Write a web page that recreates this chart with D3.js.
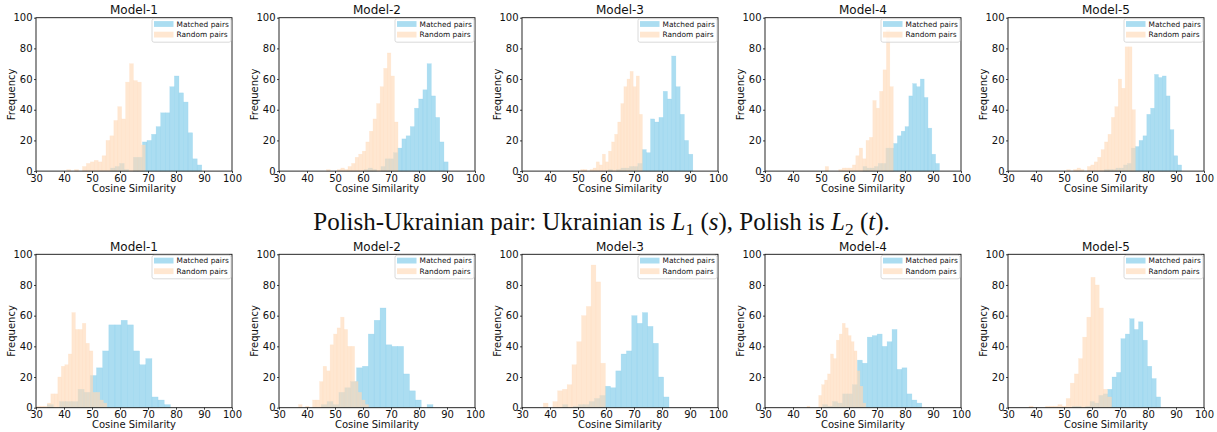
<!DOCTYPE html>
<html>
<head>
<meta charset="utf-8">
<script src="https://cdn.jsdelivr.net/npm/d3@7"></script>
<style>
  body { margin: 0; background: #fff; }
  svg text { font-family: "DejaVu Sans", sans-serif; fill: #111; }
</style>
</head>
<body>
<svg id="chart" width="1217" height="432"></svg>
<script>
const models = ['Model-1', 'Model-2', 'Model-3', 'Model-4', 'Model-5'];
const legendLabels = ['Matched pairs', 'Random pairs'];
const xTicks = [30, 40, 50, 60, 70, 80, 90, 100];
const yTicks = [0, 20, 40, 60, 80, 100];

// histogram bin range [lo, hi] and counts per bin, one entry per model
const topMatchedRange = [[56.6, 89.2], [60.4, 90.4], [60.8, 91], [65, 92.3], [64.4, 92]];
const topMatched = [
  [2, 3, 5, 1, 0, 9, 9, 19, 20, 24, 29, 38, 38, 55, 62, 51, 45, 25, 8, 4],
  [1, 2, 1, 0, 3, 8, 8, 12, 15, 21, 23, 29, 41, 47, 53, 70, 49, 35, 19, 6],
  [1, 0, 1, 2, 2, 3, 3, 5, 14, 12, 34, 32, 35, 52, 47, 75, 55, 37, 20, 11],
  [3, 2, 2, 3, 5, 5, 15, 15, 18, 23, 26, 29, 49, 57, 55, 60, 48, 28, 11, 5],
  [1, 1, 1, 2, 2, 4, 5, 15, 16, 20, 23, 37, 41, 63, 61, 62, 49, 27, 10, 4]
];
const topRandomRange = [[41, 69], [47, 72.5], [51, 73], [51.5, 75.8], [51, 75.5]];
const topRandom = [
  [1, 0, 1, 0, 3, 5, 6, 7, 6, 10, 20, 23, 33, 42, 34, 58, 70, 59, 58, 17],
  [1, 0, 0, 1, 2, 1, 3, 5, 9, 11, 13, 19, 26, 34, 44, 55, 67, 77, 62, 32],
  [1, 1, 0, 1, 2, 6, 4, 11, 6, 13, 19, 24, 32, 44, 55, 60, 65, 55, 62, 37],
  [3, 0, 0, 0, 1, 2, 2, 2, 4, 10, 15, 8, 20, 22, 46, 41, 52, 66, 92, 55],
  [1, 0, 1, 2, 1, 0, 3, 4, 6, 9, 14, 19, 24, 35, 42, 60, 54, 81, 81, 40]
];
const bottomMatchedRange = [[34, 78], [43, 85], [44.5, 82.5], [50.6, 86], [53, 84.5]];
const bottomMatched = [
  [2, 0, 4, 4, 4, 12, 10, 21, 26, 37, 54, 54, 57, 54, 37, 28, 32, 7, 5, 2],
  [0, 2, 4, 2, 10, 13, 17, 26, 27, 48, 57, 65, 41, 40, 40, 22, 11, 5, 0, 2],
  [2, 0, 1, 2, 2, 4, 6, 8, 14, 13, 24, 35, 37, 60, 55, 62, 53, 42, 20, 7],
  [2, 1, 4, 3, 9, 9, 15, 31, 29, 46, 47, 48, 40, 43, 51, 25, 26, 9, 5, 3],
  [1, 1, 0, 1, 4, 3, 8, 9, 12, 20, 23, 45, 48, 58, 51, 56, 44, 27, 19, 7]
];
const bottomRandomRange = [[30.3, 55.3], [37, 62], [37.6, 59.8], [45, 66], [37.5, 67]];
const bottomRandom = [
  [1, 1, 1, 3, 9, 9, 20, 27, 28, 35, 62, 51, 51, 55, 42, 37, 10, 10, 5, 3],
  [2, 0, 1, 0, 5, 5, 17, 27, 24, 41, 48, 52, 59, 51, 40, 40, 17, 10, 5, 2],
  [3, 0, 4, 11, 12, 15, 28, 43, 60, 66, 93, 82, 29],
  [1, 0, 0, 0, 8, 15, 18, 22, 35, 32, 44, 48, 55, 52, 47, 43, 37, 24, 14, 3],
  [1, 0, 0, 0, 1, 1, 1, 2, 1, 6, 16, 22, 32, 46, 59, 85, 80, 65, 12, 7]
];

const blue = '#87ceeb';
const peach = '#ffdab9';

const panelW = 196, panelH = 153.4;
const rows = [
  { top: 17.7, matchedRange: topMatchedRange, matched: topMatched, randomRange: topRandomRange, random: topRandom },
  { top: 254.3, matchedRange: bottomMatchedRange, matched: bottomMatched, randomRange: bottomRandomRange, random: bottomRandom }
];

var svg = d3.select('#chart');

var x = d3.scaleLinear().domain([30, 100]).range([0, panelW]);
var y = d3.scaleLinear().domain([0, 100]).range([panelH, 0]);

// turn a [lo, hi] range + counts into bins
function toBins(range, counts) {
  var w = (range[1] - range[0]) / counts.length;
  return counts.map((c, i) => ({ x0: range[0] + i * w, x1: range[0] + (i + 1) * w, c: c }))
    .filter(d => d.c > 0);
}

function drawBars(g, bins, color, opacity) {
  g.append('g').selectAll('rect')
    .data(bins)
    .enter()
    .append('rect')
    .attr('x', d => x(d.x0))
    .attr('width', d => x(d.x1) - x(d.x0))
    .attr('y', d => y(d.c))
    .attr('height', d => y(0) - y(d.c))
    .attr('fill', color)
    .attr('fill-opacity', opacity)
    .attr('stroke', color)
    .attr('stroke-opacity', opacity * 0.6)
    .attr('stroke-width', 0.5);
}

rows.forEach(function (row, r) {
  models.forEach(function (name, i) {
    var left = 36 + i * 243;
    var g = svg.append('g').attr('transform', 'translate(' + left + ',' + row.top + ')');

    drawBars(g, toBins(row.matchedRange[i], row.matched[i]), blue, 0.7);
    drawBars(g, toBins(row.randomRange[i], row.random[i]), peach, 0.65);

    // axes
    var xa = g.append('g')
      .attr('transform', 'translate(0,' + panelH + ')')
      .call(d3.axisBottom(x).tickValues(xTicks).tickSize(2).tickPadding(1.5));
    var ya = g.append('g')
      .call(d3.axisLeft(y).tickValues(yTicks).tickSize(2).tickPadding(1.5));
    [xa, ya].forEach(a => {
      a.select('.domain').remove();
      a.selectAll('text').style('font-size', '10px').style('font-family', '"DejaVu Sans", sans-serif').attr('fill', '#111');
      a.selectAll('line').attr('stroke', '#111').attr('stroke-width', 0.8);
    });

    // frame
    g.append('rect')
      .attr('width', panelW).attr('height', panelH)
      .attr('fill', 'none').attr('stroke', '#111').attr('stroke-width', 0.9);

    g.append('text')
      .attr('x', panelW / 2).attr('y', -3.5)
      .attr('text-anchor', 'middle')
      .style('font-size', '12px')
      .text(name);

    g.append('text')
      .attr('x', panelW / 2).attr('y', panelH + 20.5)
      .attr('text-anchor', 'middle')
      .style('font-size', '10px')
      .text('Cosine Similarity');

    g.append('text')
      .attr('transform', 'translate(-21.5,' + panelH / 2 + ') rotate(-90)')
      .attr('text-anchor', 'middle')
      .style('font-size', '10px')
      .text('Frequency');

    // legend
    var lg = g.append('g').attr('transform', 'translate(' + (panelW - 80) + ',1)');
    lg.append('rect')
      .attr('width', 79).attr('height', 23.5).attr('rx', 2)
      .attr('fill', '#fff').attr('fill-opacity', 0.8)
      .attr('stroke', '#d0d0d0').attr('stroke-width', 0.8);
    [blue, peach].forEach(function (c, k) {
      lg.append('rect')
        .attr('x', 2).attr('y', 2.4 + k * 10.6)
        .attr('width', 19.5).attr('height', 5.8)
        .attr('fill', c).attr('fill-opacity', k ? 0.65 : 0.7);
      lg.append('text')
        .attr('x', 24.5).attr('y', 8 + k * 10.6)
        .style('font-size', '7.4px')
        .text(legendLabels[k]);
    });
  });
});

// caption between the two rows
var cap = svg.append('text')
  .attr('x', 601.5).attr('y', 230)
  .attr('text-anchor', 'middle')
  .style('font-family', '"Liberation Serif", "Times New Roman", serif')
  .style('font-size', '25px');
cap.append('tspan').text('Polish-Ukrainian pair: Ukrainian is ');
cap.append('tspan').style('font-style', 'italic').text('L');
cap.append('tspan').attr('dy', 4.5).style('font-size', '17.5px').text('1');
cap.append('tspan').attr('dy', -4.5).text(' (');
cap.append('tspan').style('font-style', 'italic').text('s');
cap.append('tspan').text('), Polish is ');
cap.append('tspan').style('font-style', 'italic').text('L');
cap.append('tspan').attr('dy', 4.5).style('font-size', '17.5px').text('2');
cap.append('tspan').attr('dy', -4.5).text(' (');
cap.append('tspan').style('font-style', 'italic').text('t');
cap.append('tspan').text(').');
</script>
</body>
</html>
